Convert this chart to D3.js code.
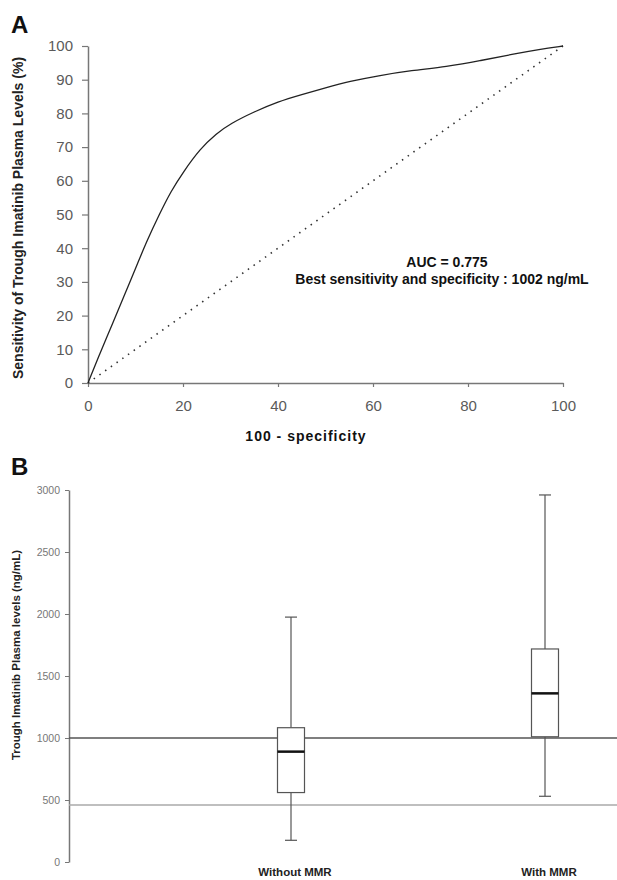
<!DOCTYPE html>
<html>
<head>
<meta charset="utf-8">
<script src="https://cdn.jsdelivr.net/npm/d3@7"></script>
<style>
  html, body { margin: 0; padding: 0; background: #fff; }
  svg { display: block; font-family: Arial, "Liberation Sans", sans-serif; }
</style>
</head>
<body>
<svg id="chart" width="617" height="880"></svg>
<script>
// ---- Panel A data: ROC curve ----
const rocFpr = [0, 2.5, 5, 7.5, 10, 12.5, 15, 17.5, 20, 23.6, 27, 30, 35, 40, 45, 50, 55, 61.5, 68, 75.5, 82.5, 89.5, 95, 100];
const rocTpr = [0, 8.8, 17, 25.5, 34, 42.5, 50, 57, 62.5, 69.5, 74, 77, 80.5, 83.5, 85.6, 87.6, 89.5, 91.3, 92.7, 93.9, 95.6, 97.6, 99, 100];
const diagonal = [0, 100];
const rocXTicks = [0, 20, 40, 60, 80, 100];
const rocYTicks = [0, 10, 20, 30, 40, 50, 60, 70, 80, 90, 100];
const rocXTitle = "100 - specificity";
const rocYTitle = "Sensitivity of Trough Imatinib Plasma Levels (%)";
const rocNotes = ["AUC = 0.775", "Best sensitivity and specificity : 1002 ng/mL"];

// ---- Panel B data: box plots ----
const groups = ["Without MMR", "With MMR"];
const boxMin = [175, 530];
const boxQ1 = [560, 1010];
const boxMedian = [890, 1360];
const boxQ3 = [1083, 1718];
const boxMax = [1975, 2960];
const refLines = [1000, 460];
const boxYTicks = [0, 500, 1000, 1500, 2000, 2500, 3000];
const boxYTitle = "Trough Imatinib Plasma levels (ng/mL)";

const svg = d3.select("#chart");

// ================= Panel A =================
const xA = d3.scaleLinear().domain([0, 100]).range([88, 563]);
const yA = d3.scaleLinear().domain([0, 100]).range([383, 46]);

svg.append("text").attr("x", 11).attr("y", 33)
  .attr("font-size", 24).attr("font-weight", "bold").attr("fill", "#111").text("A");

const gA = svg.append("g");

const axAx = gA.append("g").attr("transform", `translate(0,${yA(0)})`)
  .call(d3.axisBottom(xA).tickValues(rocXTicks).tickSize(4).tickPadding(13).tickSizeOuter(0));
const axAy = gA.append("g").attr("transform", `translate(${xA(0)},0)`)
  .call(d3.axisLeft(yA).tickValues(rocYTicks).tickSize(6).tickPadding(9).tickSizeOuter(0));
[axAx, axAy].forEach(a => {
  a.select(".domain").attr("stroke", "#777").attr("stroke-width", 1.5);
  a.selectAll(".tick line").attr("stroke", "#777").attr("stroke-width", 1.2);
  a.selectAll(".tick text").attr("font-size", 15).attr("fill", "#5a5a5a")
    .attr("font-family", "Arial, 'Liberation Sans', sans-serif");
});

// diagonal (dotted)
gA.append("line")
  .attr("x1", xA(diagonal[0])).attr("y1", yA(diagonal[0]))
  .attr("x2", xA(diagonal[1])).attr("y2", yA(diagonal[1]))
  .attr("stroke", "#333").attr("stroke-width", 1.6)
  .attr("stroke-dasharray", "1.5,5.5");

// ROC curve
const rocData = rocFpr.map((x, i) => [x, rocTpr[i]]);
gA.append("path").datum(rocData)
  .attr("fill", "none").attr("stroke", "#222").attr("stroke-width", 1.3)
  .attr("d", d3.line().x(d => xA(d[0])).y(d => yA(d[1])).curve(d3.curveBasis));

// titles
gA.append("text").attr("x", 306).attr("y", 441).attr("text-anchor", "middle")
  .attr("font-size", 14).attr("font-weight", "bold").attr("letter-spacing", 1)
  .attr("fill", "#111").text(rocXTitle);
gA.append("text").attr("transform", `translate(23,218) rotate(-90)`)
  .attr("text-anchor", "middle").attr("font-size", 14).attr("font-weight", "bold")
  .attr("fill", "#222").text(rocYTitle);

gA.append("text").attr("x", 447).attr("y", 267).attr("text-anchor", "middle")
  .attr("font-size", 14).attr("font-weight", "bold").attr("fill", "#111").text(rocNotes[0]);
gA.append("text").attr("x", 442).attr("y", 284).attr("text-anchor", "middle")
  .attr("font-size", 14).attr("font-weight", "bold").attr("fill", "#111").text(rocNotes[1]);

// ================= Panel B =================
const yB = d3.scaleLinear().domain([0, 3000]).range([862, 490]);
const xB = d3.scalePoint().domain(groups).range([69, 767]).padding(0.874);

svg.append("text").attr("x", 11).attr("y", 475)
  .attr("font-size", 24).attr("font-weight", "bold").attr("fill", "#111").text("B");

const gB = svg.append("g");
const axBy = gB.append("g").attr("transform", `translate(69,0)`)
  .call(d3.axisLeft(yB).tickValues(boxYTicks).tickFormat(d3.format("d"))
    .tickSize(4).tickPadding(5).tickSizeOuter(0));
axBy.select(".domain").attr("stroke", "#777").attr("stroke-width", 1.5);
axBy.selectAll(".tick line").attr("stroke", "#777");
axBy.selectAll(".tick text").attr("font-size", 10.5).attr("fill", "#777")
  .attr("font-family", "Arial, 'Liberation Sans', sans-serif");

// reference lines
gB.selectAll("line.ref").data(refLines).enter().append("line").attr("class", "ref")
  .attr("x1", 69).attr("x2", 617)
  .attr("y1", d => yB(d)).attr("y2", d => yB(d))
  .attr("stroke", (d, i) => i === 0 ? "#555" : "#aaa")
  .attr("stroke-width", 1.5);

const boxW = 27, capW = 12;
const boxes = groups.map((g, i) => ({ g, min: boxMin[i], q1: boxQ1[i], med: boxMedian[i], q3: boxQ3[i], max: boxMax[i] }));
const bg = gB.selectAll("g.box").data(boxes).enter().append("g").attr("class", "box")
  .attr("transform", d => `translate(${xB(d.g)},0)`);

bg.append("line").attr("x1", 0).attr("x2", 0)
  .attr("y1", d => yB(d.max)).attr("y2", d => yB(d.q3)).attr("stroke", "#555").attr("stroke-width", 1.2);
bg.append("line").attr("x1", 0).attr("x2", 0)
  .attr("y1", d => yB(d.q1)).attr("y2", d => yB(d.min)).attr("stroke", "#555").attr("stroke-width", 1.2);
bg.append("line").attr("x1", -capW / 2).attr("x2", capW / 2)
  .attr("y1", d => yB(d.max)).attr("y2", d => yB(d.max)).attr("stroke", "#555").attr("stroke-width", 1.2);
bg.append("line").attr("x1", -capW / 2).attr("x2", capW / 2)
  .attr("y1", d => yB(d.min)).attr("y2", d => yB(d.min)).attr("stroke", "#555").attr("stroke-width", 1.2);
bg.append("rect").attr("x", -boxW / 2).attr("width", boxW)
  .attr("y", d => yB(d.q3)).attr("height", d => yB(d.q1) - yB(d.q3))
  .attr("fill", "#fff").attr("stroke", "#555").attr("stroke-width", 1.2);
bg.append("line").attr("x1", -boxW / 2).attr("x2", boxW / 2)
  .attr("y1", d => yB(d.med)).attr("y2", d => yB(d.med)).attr("stroke", "#111").attr("stroke-width", 2.5);

bg.append("text").attr("x", 4).attr("y", 876).attr("text-anchor", "middle")
  .attr("font-size", 11.5).attr("font-weight", "bold").attr("fill", "#222").text(d => d.g);

gB.append("text").attr("transform", `translate(20,655) rotate(-90)`)
  .attr("text-anchor", "middle").attr("font-size", 11.5).attr("font-weight", "bold")
  .attr("fill", "#222").text(boxYTitle);
</script>
</body>
</html>
